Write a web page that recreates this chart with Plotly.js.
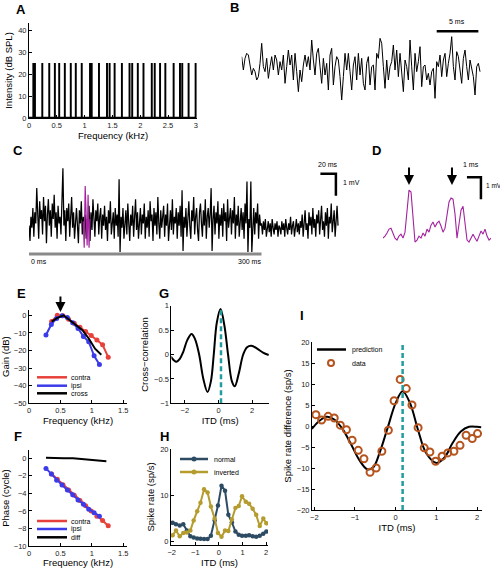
<!DOCTYPE html>
<html><head><meta charset="utf-8">
<script src="https://cdn.plot.ly/plotly-3.0.1.min.js"></script>
<style>html,body{margin:0;padding:0;background:#fff}#chart{width:500px;height:568px}</style>
</head><body><div id="chart"></div>
<script>
// ================= DATA =================
// A: tone complex
const toneFreqs = [0.078,0.107,0.239,0.364,0.465,0.543,0.644,0.751,0.841,0.948,1.097,1.127,1.258,1.402,1.449,1.539,1.670,1.807,1.855,1.956,2.058,2.207,2.260,2.356,2.451,2.600,2.714,2.755,2.869,2.995];
const toneLevels = [25,25,25,25,25,25,25,25,25,25,25,25,25,25,25,25,25,25,25,25,25,25,25,25,25,25,25,25,25,25];
// B: stimulus waveform (arb. units), sample step 0.2 ms
const noiseB = [3,-1,2.5,4,3.5,0,-2.5,-0.5,-1.5,-4,-3,1,7,0,-1.5,2.5,-3.5,0,3,-1,3.5,2,-2.5,1.5,-1,3.5,-5,0,5,0.5,3.5,-4,4,-1.5,-7.5,-1,-4.5,0.5,3.5,0,3,-1,8,2,-2.5,4,5.5,0,-5,2.5,-2.5,1,-7,3.5,5.5,-5.5,0,3,2,-3,-10,-3,4,-1,4,-1.5,-7,0.5,3,-4,4,-2.5,2.5,-5,-7,1,3,-5.5,0,0.5,-7,4,2.5,8.5,7,0,-6.5,2,-4,0,1.5,6.5,-1,5,-3,4,-1,-7.5,2,0,-4,8,0,-7,4,-1.5,1.5,6,-6,0,0.5,-4,-2,-5.5,-1.5,-0.5,-9.5,1.5,0,3.5,-3,2,4,-3,1,4,9,0,-4,4.5,3,-1,-5,2.5,5,0,-4,2,-1,-3,-8.5,0,1,-1.5];
// C: recorded potential (mV), sample step 1.25 ms
const traceC = [
0.2,-0.5,0.6,0.1,1.0,-0.3,0.8,0.3,1.9,0.2,-0.4,1.3,0.5,0.9,-0.2,1.5,0.4,1.1,-0.6,0.7,
1.4,0.2,0.9,-0.3,1.2,0.5,1.6,0.1,0.8,-0.4,1.1,0.3,0.6,-0.2,1.3,2.8,0.2,0.9,-0.5,1.0,
0.4,1.2,-0.3,0.7,1.5,0.1,0.8,-0.4,0.5,1.0,0.2,-0.6,0.9,0.3,1.3,-0.2,0.6,0.1,0.7,-0.4,
0.5,0.2,1.1,-0.5,0.8,0.0,1.4,0.3,-0.3,0.9,0.4,1.2,-0.2,0.6,1.0,-0.4,0.7,0.2,1.1,0.0,
0.6,-0.5,0.9,0.3,1.3,-0.2,0.5,0.8,-0.4,1.0,0.2,0.7,-0.3,2.3,-1.0,0.6,0.1,1.0,-0.4,0.5,
0.9,-0.2,1.2,0.3,-0.5,0.7,0.2,1.1,-0.3,0.6,1.4,0.0,0.8,-0.4,0.5,1.0,-0.2,0.7,0.3,1.2,
-0.4,0.6,0.1,0.9,-0.3,1.3,0.4,0.7,-0.5,1.0,0.2,0.8,-0.2,1.5,0.3,-0.4,0.9,0.1,0.6,1.1,
-0.3,0.7,0.2,1.2,-0.5,0.5,0.9,0.0,1.4,-0.2,0.6,0.3,1.0,-0.4,0.8,0.2,1.1,-0.3,1.8,-0.95,
0.6,0.1,1.0,-0.3,0.7,1.3,0.2,-0.4,0.9,0.4,1.5,-0.2,0.6,1.0,0.0,-0.5,0.8,1.2,0.3,-0.3,
0.9,0.2,1.4,-0.4,0.6,1.0,0.1,0.7,1.9,-0.95,0.5,1.1,-0.2,0.8,0.3,1.3,-0.4,0.7,0.2,1.0,
-0.3,1.2,0.4,0.8,-0.5,1.4,0.1,0.6,1.0,-0.2,0.9,0.3,1.5,-0.4,0.7,0.2,1.1,-0.3,0.6,1.0,
0.0,0.8,-0.4,1.2,0.3,2.2,-1.0,0.5,0.1,2.2,-1.0,0.6,1.0,-0.2,0.8,0.3,1.2,-0.4,0.7,0.2,
0.3,-0.2,0.4,0.0,0.5,-0.3,0.2,0.4,-0.1,0.3,-0.3,0.5,0.1,-0.2,0.3,0.0,0.4,-0.3,0.2,0.1,
-0.2,0.4,0.0,0.3,-0.3,0.5,0.1,-0.2,0.3,0.0,0.6,-0.2,0.2,0.4,-0.3,0.1,0.5,-0.1,0.3,-0.2,
0.4,0.1,0.7,-0.3,0.5,0.9,0.0,0.3,-0.4,0.8,0.2,0.6,-0.2,1.0,0.1,0.5,-0.3,0.7,0.3,0.9,
-0.2,0.6,1.1,0.0,0.4,-0.3,0.8,0.2,1.0,-0.4,0.6,0.3,1.2,-0.1,0.5,0.9,-0.3,0.7,1.1,0.2];
const traceCHighlight = [0.4,-0.8,2.0,0.6,-0.7,1.6,-0.8,0.5];   // starts at 70 ms
// D: expanded segment (mV), sample step 0.143 ms
const traceD = [0,0.09,0.23,0.41,0.45,0.23,0,-0.09,0.09,0.18,0,0.27,1.36,2.18,2.09,0.73,-0.18,-0.09,0.09,0,0.23,0.09,0.41,0.27,0.59,0.73,0.5,0.68,0.77,0.55,0.27,0.45,1.18,1.64,1.82,1.77,1.09,0,0.64,1.27,1.45,0.73,-0.09,-0.18,0,0.18,0,-0.14,0.09,0.32,0.18,0.41,0.09,-0.09,0];
// E/F: transfer functions
const freqContra = [0.36,0.45,0.54,0.63,0.72,0.81,0.90,0.99,1.08,1.17,1.26];
const gainContra = [-3.5,0,-0.3,-2.3,-4.5,-6.8,-9.2,-11.5,-14,-16.8,-23.8];
const phaseContra = [-1.8,-2.4,-3.0,-3.6,-4.2,-4.8,-5.4,-6.0,-6.6,-7.1,-7.7];
const freqIpsi = [0.27,0.355,0.44,0.525,0.61,0.695,0.78,0.865,0.95,1.035,1.12];
const gainIpsi = [-11.2,-5.2,-1.8,-0.3,-1.3,-4.2,-7.5,-12.0,-15.0,-23.0,-28.0];
const phaseIpsi = [-1.15,-1.8,-2.5,-3.05,-3.6,-4.15,-4.75,-5.25,-5.8,-6.2,-6.6];
const freqCross = [0.36,0.45,0.55,0.65,0.75,0.85,0.95,1.05,1.15];
const gainCross = [-3.6,-1.5,0,-2.8,-5.3,-8.5,-13.2,-19,-22.4];
const freqDiff = [0.27,0.4,0.55,0.7,0.85,1.0,1.1,1.23];
const phaseDiff = [0.06,0.02,0.0,0.02,-0.08,-0.2,-0.27,-0.33];
const bestFreq = 0.5;
// G: cross-correlation
const ccLag = [-2.83,-2.65,-2.5,-2.3,-2.1,-1.85,-1.6,-1.4,-1.15,-0.9,-0.65,-0.45,-0.28,-0.1,0.12,0.35,0.57,0.8,0.97,1.2,1.47,1.7,1.96,2.3,2.65,2.99];
const ccValue = [-0.04,-0.12,-0.15,-0.09,0.05,0.3,0.42,0.32,0.0,-0.5,-0.77,-0.55,0.0,0.65,0.93,0.6,0.0,-0.55,-0.65,-0.4,0.0,0.15,0.18,0.12,0.04,-0.01];
const ccPeakLag = 0.15;
// H/I: ITD tuning
const itd = [-1.96,-1.82,-1.66,-1.51,-1.36,-1.21,-1.07,-0.92,-0.78,-0.63,-0.48,-0.34,-0.18,-0.04,0.11,0.26,0.40,0.55,0.70,0.84,0.98,1.14,1.28,1.43,1.58,1.73,1.88,2.01];
const rateNormal = [4.1,3.8,3.5,3.8,2.4,1.2,0.9,0.7,0.65,0.6,0.6,1.3,4.6,7.8,12.1,11.0,5.8,4.2,2.2,1.5,1.3,1.3,1.4,1.2,1.1,1.3,1.7,2.2];
const rateInverted = [1.4,2.4,1.2,1.9,2.0,2.4,4.6,6.6,8.4,11.3,10.6,7.6,5.0,1.9,1.1,2.4,2.3,4.8,7.3,7.7,9.8,8.6,8.2,7.1,5.8,3.4,5.0,4.0];
const rateDiff = [2.7,1.4,2.3,1.9,0.2,-0.9,-3.4,-5.8,-7.8,-11.0,-10.0,-6.0,-1.0,6.0,11.1,8.9,5.0,-0.4,-5.2,-6.2,-8.4,-7.2,-6.4,-6.0,-4.6,-2.2,-3.0,-1.8];
const predITD = [-2.06,-1.9,-1.7,-1.5,-1.3,-1.1,-0.9,-0.7,-0.55,-0.4,-0.2,0.0,0.17,0.35,0.55,0.75,1.0,1.2,1.4,1.6,1.8,2.0,2.1];
const predRate = [-0.7,1.0,2.2,1.5,-0.8,-4.3,-8.0,-10.3,-9.8,-6.5,-0.5,5.5,8.3,5.5,-1.0,-6.5,-8.8,-7.5,-4.0,-1.3,-0.2,-0.2,-0.3];
const predPeakITD = 0.17;

// ================= STYLE / LAYOUT =================
const W = 500, H = 568;
const FONT = 'Liberation Sans, Arial, sans-serif';
const px = x => x / W, py = y => 1 - y / H;
const dX = (a, b) => [a / W, b / W];
const dY = (top, bottom) => [1 - bottom / H, 1 - top / H];
const RED = '#e8403a', BLUE = '#3b3bea', TEAL = '#1f9e9e', PURPLE = '#a4229f';
const NAVY = '#2d4c64', OLIVE = '#b59c2e', BROWN = '#b5541e';

function ax(o) {
  return Object.assign({
    showline: true, linecolor: '#000', linewidth: 1, ticks: 'inside', ticklen: 3,
    tickwidth: 1, tickcolor: '#000', showgrid: false, zeroline: false,
    tickfont: { size: 7.5, color: '#222', family: FONT }, fixedrange: true
  }, o);
}
function ttl(text, standoff) { return { text: text, standoff: standoff, font: { size: 9.5, color: '#000', family: FONT } }; }
const hidden = o => Object.assign({ visible: false, fixedrange: true }, o);

const traces = [
  { type: 'bar', x: toneFreqs, y: toneLevels, width: 0.035, marker: { color: '#000', line: { width: 0 } }, xaxis: 'x', yaxis: 'y' },
  { type: 'scatter', mode: 'lines', y: noiseB, x0: 0, dx: 0.2, line: { color: '#000', width: 1 }, xaxis: 'x2', yaxis: 'y2' },
  { type: 'scatter', mode: 'lines', y: traceC, x0: 0, dx: 1.25, line: { color: '#000', width: 1.25 }, xaxis: 'x3', yaxis: 'y3' },
  { type: 'scatter', mode: 'lines', y: traceCHighlight, x0: 70, dx: 1.25, line: { color: PURPLE, width: 1.2 }, xaxis: 'x3', yaxis: 'y3' },
  { type: 'scatter', mode: 'lines', y: traceD, x0: 0, dx: 0.143, line: { color: PURPLE, width: 1.1 }, xaxis: 'x4', yaxis: 'y4' },
  // E
  { type: 'scatter', mode: 'lines+markers', x: freqContra, y: gainContra, line: { color: RED, width: 2 }, marker: { color: RED, size: 5 }, xaxis: 'x5', yaxis: 'y5' },
  { type: 'scatter', mode: 'lines+markers', x: freqIpsi, y: gainIpsi, line: { color: BLUE, width: 2 }, marker: { color: BLUE, size: 5 }, xaxis: 'x5', yaxis: 'y5' },
  { type: 'scatter', mode: 'lines', x: freqCross, y: gainCross, line: { color: '#000', width: 2 }, xaxis: 'x5', yaxis: 'y5' },
  // F
  { type: 'scatter', mode: 'lines+markers', x: freqContra, y: phaseContra, line: { color: RED, width: 2 }, marker: { color: RED, size: 5 }, xaxis: 'x6', yaxis: 'y6' },
  { type: 'scatter', mode: 'lines+markers', x: freqIpsi, y: phaseIpsi, line: { color: BLUE, width: 2 }, marker: { color: BLUE, size: 5 }, xaxis: 'x6', yaxis: 'y6' },
  { type: 'scatter', mode: 'lines', x: freqDiff, y: phaseDiff, line: { color: '#000', width: 2 }, xaxis: 'x6', yaxis: 'y6' },
  // G
  { type: 'scatter', mode: 'lines', x: ccLag, y: ccValue, line: { color: '#000', width: 2, shape: 'spline', smoothing: 1 }, xaxis: 'x7', yaxis: 'y7' },
  // H
  { type: 'scatter', mode: 'lines+markers', x: itd, y: rateNormal, line: { color: NAVY, width: 2 }, marker: { color: NAVY, size: 4.5 }, xaxis: 'x8', yaxis: 'y8' },
  { type: 'scatter', mode: 'lines+markers', x: itd, y: rateInverted, line: { color: OLIVE, width: 2 }, marker: { color: OLIVE, size: 4.5 }, xaxis: 'x8', yaxis: 'y8' },
  // I
  { type: 'scatter', mode: 'lines', x: predITD, y: predRate, line: { color: '#000', width: 2, shape: 'spline', smoothing: 1 }, xaxis: 'x9', yaxis: 'y9' },
  { type: 'scatter', mode: 'markers', x: itd, y: rateDiff, marker: { symbol: 'circle-open', color: BROWN, size: 7, line: { width: 2, color: BROWN } }, xaxis: 'x9', yaxis: 'y9' }
];

const shapes = [
  // A baseline
  { type: 'line', xref: 'x', yref: 'y', x0: 0, x1: 3, y0: 0, y1: 0, line: { color: '#000', width: 2.5 } },
  // B scale bar 5 ms
  { type: 'line', xref: 'x2', yref: 'y2', x0: 23.4, x1: 28.4, y0: 10.7, y1: 10.7, line: { color: '#000', width: 3 } },
  // C time bar 0-300 ms
  { type: 'line', xref: 'x3', yref: 'y3', x0: 0, x1: 300, y0: -1.09, y1: -1.09, line: { color: '#8a8a8a', width: 3 } },
  // C scale bar 20 ms / 1 mV
  { type: 'path', xref: 'x3', yref: 'y3', path: 'M 376,2.55 L 396,2.55 L 396,1.55', line: { color: '#000', width: 2.5 } },
  // D scale bar 1 ms / 1 mV
  { type: 'path', xref: 'x4', yref: 'y4', path: 'M 6,2.77 L 7,2.77 L 7,1.77', line: { color: '#000', width: 2.5 } },
  // G, I peak markers
  { type: 'line', xref: 'x7', yref: 'y7', x0: ccPeakLag, x1: ccPeakLag, y0: -1, y1: 0.95, line: { color: TEAL, width: 2.5, dash: '5px,3px' } },
  { type: 'line', xref: 'x9', yref: 'y9', x0: predPeakITD, x1: predPeakITD, y0: -20, y1: 20, line: { color: TEAL, width: 2.5, dash: '5px,3px' } }
];
const annotations = [];
function txt(t, x, y, o) {
  annotations.push(Object.assign({ text: t, xref: 'paper', yref: 'paper', x: px(x), y: py(y), showarrow: false,
    xanchor: 'center', yanchor: 'middle', font: { size: 7, color: '#000', family: FONT } }, o || {}));
}
// legend keys
function key(color, x0, x1, y, label, tx, marker) {
  shapes.push({ type: 'line', xref: 'paper', yref: 'paper', x0: px(x0), x1: px(x1), y0: py(y), y1: py(y), line: { color: color, width: 2.5 } });
  if (marker === 'filled') shapes.push({ type: 'circle', xref: 'paper', yref: 'paper', x0: px((x0 + x1) / 2 - 2.5), x1: px((x0 + x1) / 2 + 2.5), y0: py(y + 2.5), y1: py(y - 2.5), fillcolor: color, line: { color: color, width: 0 } });
  txt(label, tx, y, { xanchor: 'left' });
}
key(RED, 37, 67, 377.3, 'contra', 69);
key(BLUE, 37, 67, 385.7, 'ipsi', 69);
key('#000', 37, 67, 393.3, 'cross', 69);
key(RED, 37, 67, 521, 'contra', 69);
key(BLUE, 37, 67, 529, 'ipsi', 69);
key('#000', 37, 67, 537.3, 'diff', 69);
key(NAVY, 180, 208, 459, 'normal', 212, 'filled');
key(OLIVE, 180, 208, 472, 'inverted', 212, 'filled');
key('#000', 317, 346, 349.5, 'prediction', 350);
shapes.push({ type: 'circle', xref: 'paper', yref: 'paper', x0: px(328), x1: px(334), y0: py(366), y1: py(360), line: { color: BROWN, width: 2 } });
txt('data', 350, 363, { xanchor: 'left' });
// scale-bar labels
txt('5 ms', 457, 22);
txt('0 ms', 29, 262, { xanchor: 'left' });
txt('300 ms', 263, 262, { xanchor: 'right' });
txt('20 ms', 328, 164);
txt('1 mV', 341, 182, { xanchor: 'left' });
txt('1 ms', 471, 164);
txt('1 mV', 484, 185, { xanchor: 'left', font: { size: 6.5, color: '#000', family: FONT } });
// panel letters
[['A', 21, 10], ['B', 234, 8], ['C', 18, 150], ['D', 376, 150], ['E', 21, 293], ['F', 18, 436], ['G', 164, 293], ['H', 164, 436], ['I', 302, 315]].forEach(l =>
  txt('<b>' + l[0] + '</b>', l[1], l[2], { font: { size: 13, color: '#000', family: FONT } }));
// arrows
annotations.push({ text: '', xref: 'x5', x: bestFreq, yref: 'paper', y: py(312), showarrow: true, ax: 0, ay: -17, arrowhead: 2, arrowsize: 1, arrowwidth: 2, arrowcolor: '#000' });
annotations.push({ text: '', xref: 'x4', x: 1.86, yref: 'paper', y: py(185), showarrow: true, ax: 0, ay: -19, arrowhead: 2, arrowsize: 1, arrowwidth: 2, arrowcolor: '#000' });
annotations.push({ text: '', xref: 'x4', x: 4.93, yref: 'paper', y: py(185), showarrow: true, ax: 0, ay: -19, arrowhead: 2, arrowsize: 1, arrowwidth: 2, arrowcolor: '#000' });

const layout = {
  width: W, height: H, margin: { l: 0, r: 0, t: 0, b: 0 }, showlegend: false, hovermode: false,
  paper_bgcolor: '#fff', plot_bgcolor: 'rgba(0,0,0,0)', font: { family: FONT },
  shapes: shapes, annotations: annotations,
  xaxis: ax({ domain: dX(29, 197), range: [0, 3.02], dtick: 0.5, anchor: 'y', title: ttl('Frequency (kHz)', 1) }),
  yaxis: ax({ domain: dY(23, 118), range: [0, 43.2], dtick: 10, anchor: 'x', title: ttl('Intensity (dB SPL)', 3) }),
  xaxis2: hidden({ domain: dX(241.7, 481.7), range: [0, 28.8], anchor: 'y2' }),
  yaxis2: hidden({ domain: dY(30, 105), range: [-11.5, 11], anchor: 'x2' }),
  xaxis3: hidden({ domain: dX(29, 339), range: [0, 400], anchor: 'y3' }),
  yaxis3: hidden({ domain: dY(165, 258), range: [-1.27, 2.95], anchor: 'x3' }),
  xaxis4: hidden({ domain: dX(383, 491), range: [0, 7.72], anchor: 'y4' }),
  yaxis4: hidden({ domain: dY(160, 248), range: [-0.45, 3.55], anchor: 'x4' }),
  xaxis5: ax({ domain: dX(29, 127.1), range: [0, 1.56], dtick: 0.5, anchor: 'y5', title: ttl('Frequency (kHz)', 1) }),
  yaxis5: ax({ domain: dY(310, 403.3), range: [-50, 3], dtick: 10, anchor: 'x5', title: ttl('Gain (dB)', 3) }),
  xaxis6: ax({ domain: dX(29, 127.1), range: [0, 1.56], dtick: 0.5, anchor: 'y6', title: ttl('Frequency (kHz)', 1) }),
  yaxis6: ax({ domain: dY(450, 546), range: [-10, 0.95], dtick: 2, anchor: 'x6', title: ttl('Phase (cycle)', 3) }),
  xaxis7: ax({ domain: dX(171.4, 268.9), range: [-2.8, 3.0], tickvals: [-2, 0, 2], anchor: 'y7', title: ttl('ITD (ms)', 1) }),
  yaxis7: ax({ domain: dY(305.7, 403.3), range: [-1, 1], dtick: 0.5, anchor: 'x7', title: ttl('Cross\u2212correlation', 3) }),
  xaxis8: ax({ domain: dX(171, 268), range: [-2.03, 2.08], dtick: 1, anchor: 'y8', title: ttl('ITD (ms)', 1) }),
  yaxis8: ax({ domain: dY(449, 545), range: [-0.7, 20], tickvals: [0, 10, 20], anchor: 'x8', title: ttl('Spike rate (sp/s)', 3) }),
  xaxis9: ax({ domain: dX(312, 482), range: [-2.056, 2.12], dtick: 1, anchor: 'y9', title: ttl('ITD (ms)', 1) }),
  yaxis9: ax({ domain: dY(342, 510), range: [-20, 20], dtick: 5, anchor: 'x9', title: ttl('Spike rate difference (sp/s)', 3) })
};
Plotly.newPlot('chart', traces, layout, { staticPlot: true, displayModeBar: false });
</script>
</body></html>
